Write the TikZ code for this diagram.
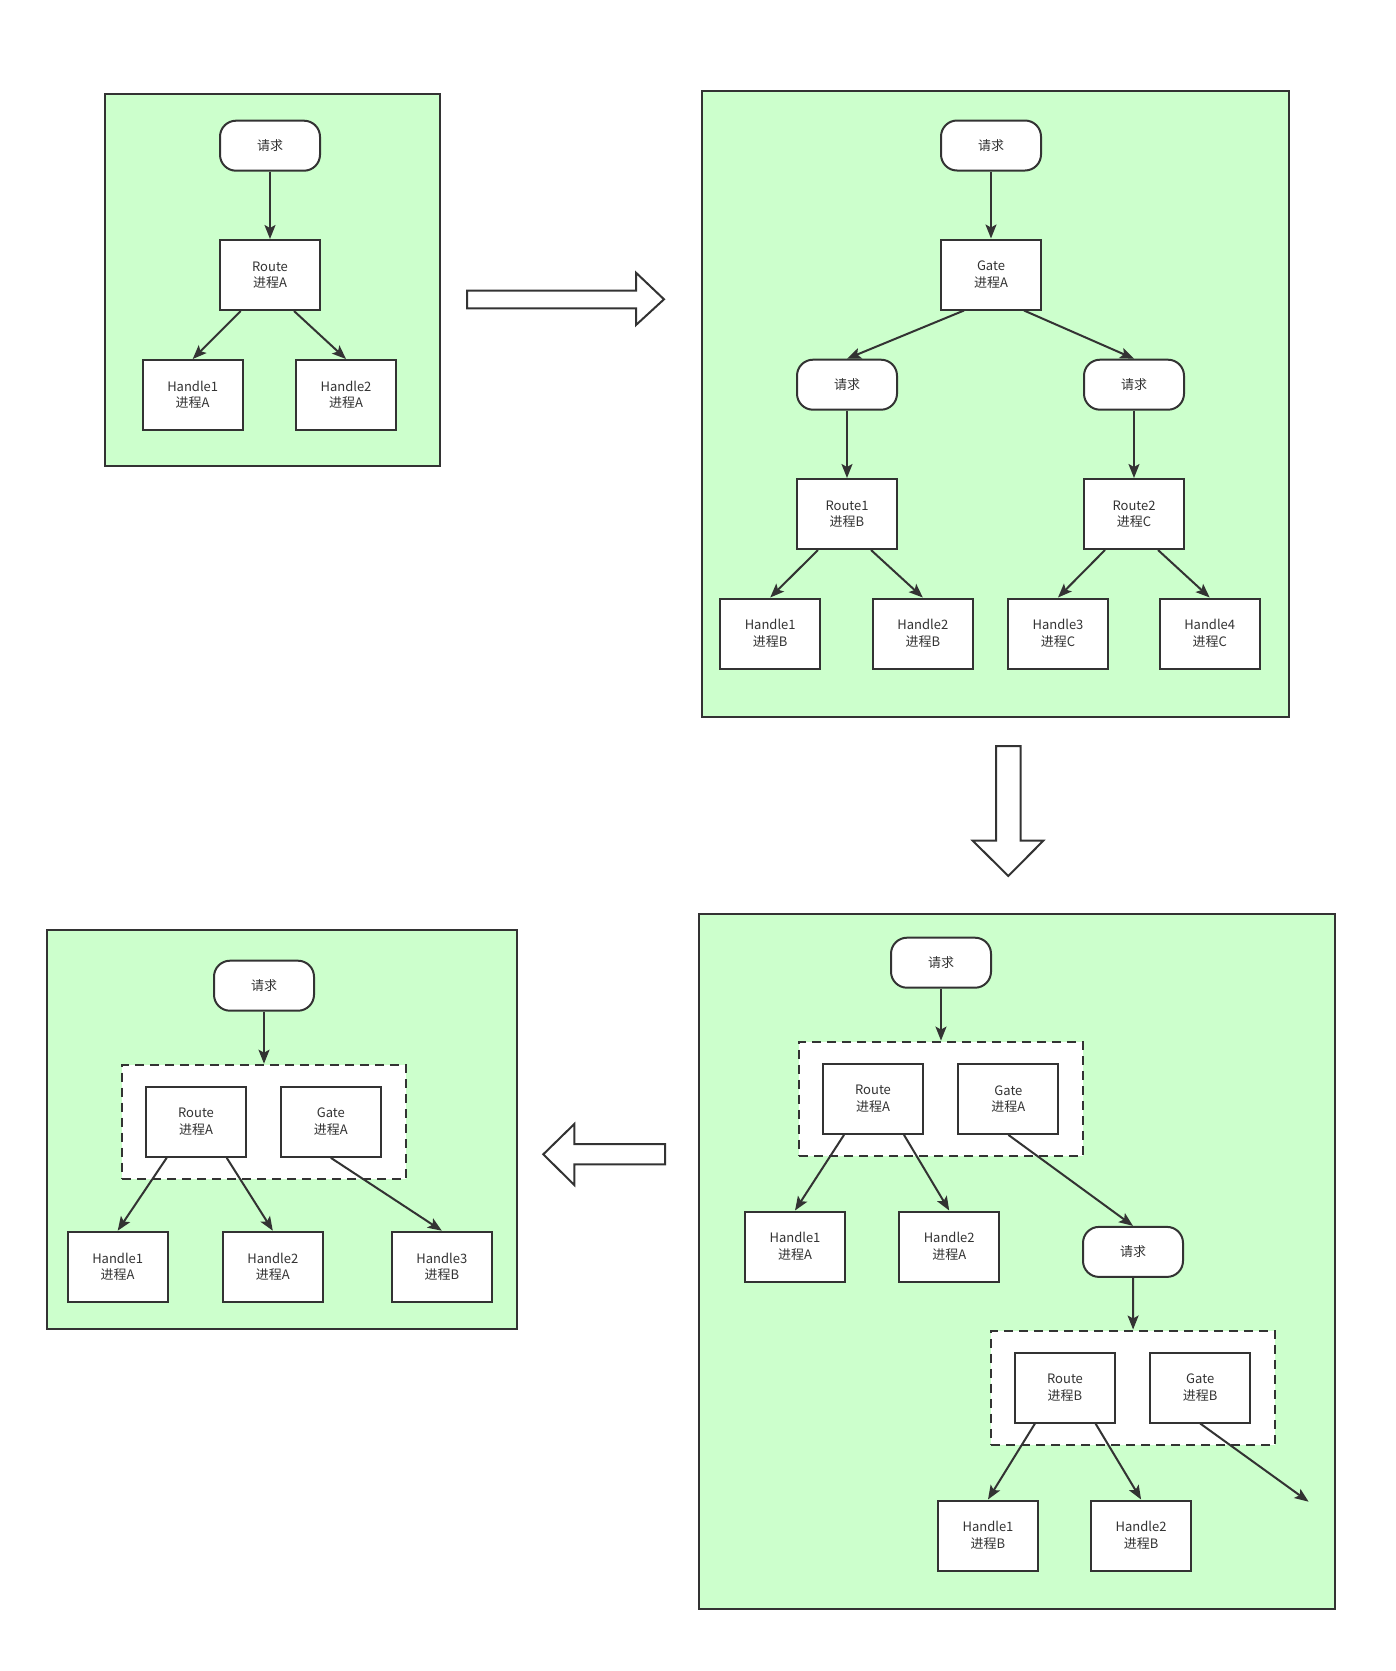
\documentclass[tikz,border=0pt]{standalone}
\usepackage{fontspec}
\setmainfont{Noto Sans CJK SC}
\usetikzlibrary{arrows.meta}
\definecolor{panelgreen}{HTML}{CCFFCC}
\definecolor{ink}{HTML}{333333}
\tikzset{
  panel/.style={draw=ink, fill=panelgreen, line width=2pt},
  proc/.style={draw=ink, fill=white, line width=2pt, rectangle,
    minimum width=100pt, minimum height=70pt, inner sep=0pt, align=center,
    text=ink, font=\fontsize{13pt}{16.5pt}\selectfont},
  req/.style={proc, rounded corners=16pt, minimum height=50pt},
  grp/.style={draw=ink, fill=white, line width=2pt, dash pattern=on 9pt off 6pt,
    rectangle, minimum width=284pt, minimum height=114pt, inner sep=0pt},
  conn/.style={draw=ink, line width=2pt, -{Stealth[length=14pt,width=11pt,inset=3pt]}},
  bigarrow/.style={draw=ink, fill=white, line width=2pt, line join=miter}
}
\begin{document}
\begin{tikzpicture}[x=1pt, y=-1pt]
\useasboundingbox (0,0) rectangle (1396,1671);

% ---------- stage 1: single process ----------
\path[panel] (104.5,94) rectangle (440,466);
\node[req]  (s1req)   at (270,145.7) {请求};
\node[proc] (s1route) at (270,275)   {Route\\进程A};
\node[proc] (s1h1)    at (192.7,395) {Handle1\\进程A};
\node[proc] (s1h2)    at (346,395)   {Handle2\\进程A};
\draw[conn] (s1req) -- (s1route);
\draw[conn] ([xshift=-29.3pt]s1route.south) -- (s1h1.north);
\draw[conn] ([xshift=24pt]s1route.south) -- (s1h2.north);

% hollow arrow to stage 2
\draw[bigarrow] (467,290.7) -- (636,290.7) -- (636,272.7) -- (664,299.3)
  -- (636,325) -- (636,308.3) -- (467,308.3) -- cycle;

% ---------- stage 2: gate with separate route processes ----------
\path[panel] (702.2,90.5) rectangle (1289.4,717.2);
\node[req]  (s2req)  at (991,145.5)   {请求};
\node[proc] (s2gate) at (991,274.5)   {Gate\\进程A};
\node[req]  (s2reqL) at (847,384.7)   {请求};
\node[req]  (s2reqR) at (1134,384.7)  {请求};
\node[proc] (s2r1)   at (847,514)     {Route1\\进程B};
\node[proc] (s2r2)   at (1134,514)    {Route2\\进程C};
\node[proc] (s2h1)   at (770.2,633.5) {Handle1\\进程B};
\node[proc] (s2h2)   at (922.8,633.5) {Handle2\\进程B};
\node[proc] (s2h3)   at (1058,633.5)  {Handle3\\进程C};
\node[proc] (s2h4)   at (1209.7,633.5){Handle4\\进程C};
\draw[conn] (s2req) -- (s2gate);
\draw[conn] ([xshift=-27pt]s2gate.south) -- (s2reqL.north);
\draw[conn] ([xshift=33pt]s2gate.south) -- (s2reqR.north);
\draw[conn] (s2reqL) -- (s2r1);
\draw[conn] (s2reqR) -- (s2r2);
\draw[conn] ([xshift=-29pt]s2r1.south) -- (s2h1.north);
\draw[conn] ([xshift=24pt]s2r1.south) -- (s2h2.north);
\draw[conn] ([xshift=-29pt]s2r2.south) -- (s2h3.north);
\draw[conn] ([xshift=24pt]s2r2.south) -- (s2h4.north);

% hollow arrow to stage 3
\draw[bigarrow] (996,746) -- (1020.7,746) -- (1020.7,840.7) -- (1043.3,840.7)
  -- (1008.3,876) -- (972.7,840.7) -- (996,840.7) -- cycle;

% ---------- stage 3: chained route+gate groups ----------
\path[panel] (699.3,913.5) rectangle (1335.2,1609);
\node[req]  (s3req)   at (941,962.7)     {请求};
\node[grp]  (s3grpA)  at (941,1098.6)    {};
\node[proc] (s3routeA) at (873,1098.9)   {Route\\进程A};
\node[proc] (s3gateA)  at (1008.4,1098.9){Gate\\进程A};
\node[proc] (s3h1A)   at (795,1246.5)    {Handle1\\进程A};
\node[proc] (s3h2A)   at (949.2,1246.5)  {Handle2\\进程A};
\node[req]  (s3req2)  at (1133,1251.9)   {请求};
\node[grp]  (s3grpB)  at (1133.1,1387.5) {};
\node[proc] (s3routeB) at (1065,1387.5)  {Route\\进程B};
\node[proc] (s3gateB)  at (1200.2,1387.5){Gate\\进程B};
\node[proc] (s3h1B)   at (988,1535.5)    {Handle1\\进程B};
\node[proc] (s3h2B)   at (1141.1,1535.5) {Handle2\\进程B};
\coordinate (s3next) at (1308.6,1501.7);
\draw[conn] (s3req) -- (s3grpA.north);
\draw[conn] ([xshift=-29pt]s3routeA.south) -- (s3h1A.north);
\draw[conn] ([xshift=31pt]s3routeA.south) -- (s3h2A.north);
\draw[conn] (s3gateA.south) -- (s3req2.north);
\draw[conn] (s3req2) -- (s3grpB.north);
\draw[conn] ([xshift=-30pt]s3routeB.south) -- (s3h1B.north);
\draw[conn] ([xshift=30.5pt]s3routeB.south) -- (s3h2B.north);
\draw[conn] (s3gateB.south) -- (s3next);

% hollow arrow to stage 4
\draw[bigarrow] (665,1144) -- (574.3,1144) -- (574.3,1124) -- (543.3,1154.3)
  -- (574.3,1185) -- (574.3,1164.3) -- (665,1164.3) -- cycle;

% ---------- stage 4: route and gate in one process ----------
\path[panel] (47.3,930) rectangle (516.7,1329.3);
\node[req]  (s4req)   at (264,985.7)    {请求};
\node[grp]  (s4grp)   at (264,1121.7)   {};
\node[proc] (s4route) at (196,1121.8)   {Route\\进程A};
\node[proc] (s4gate)  at (330.8,1121.8) {Gate\\进程A};
\node[proc] (s4h1)    at (117.7,1266.7) {Handle1\\进程A};
\node[proc] (s4h2)    at (272.8,1266.7) {Handle2\\进程A};
\node[proc] (s4h3)    at (441.8,1266.7) {Handle3\\进程B};
\draw[conn] (s4req) -- (s4grp.north);
\draw[conn] ([xshift=-29.3pt]s4route.south) -- (s4h1.north);
\draw[conn] ([xshift=30.7pt]s4route.south) -- (s4h2.north);
\draw[conn] (s4gate.south) -- (s4h3.north);
\end{tikzpicture}
\end{document}
